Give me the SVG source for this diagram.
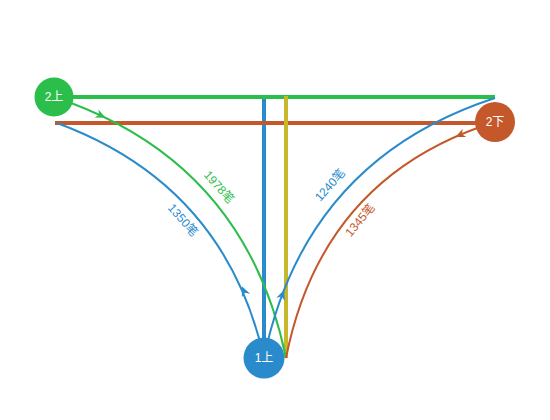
<svg xmlns="http://www.w3.org/2000/svg" width="550" height="420" viewBox="0 0 550 420">
<style>
.bar{fill:none;stroke-width:4}
.cv{fill:none;stroke-width:2}
.lbl{font-family:"Liberation Sans","Noto Sans CJK SC",sans-serif;font-size:12px;text-anchor:middle;dominant-baseline:central}
.nt{font-family:"Liberation Sans","Noto Sans CJK SC",sans-serif;font-size:12px;fill:#fff;text-anchor:middle;dominant-baseline:central}
.g{stroke:#2bbe4b}.gf{fill:#2bbe4b}
.b{stroke:#298bcc}.bf{fill:#298bcc}
.r{stroke:#c4582a}.rf{fill:#c4582a}
.y{stroke:#c8b728}
</style>
<defs>
<path id="arw" d="M5,0 L-5,-4.5 L-2,0 L-5,4.5 Z"/>
</defs>
<rect width="550" height="420" fill="#fff"/>
<g id="connectors">
<line class="bar b" x1="264" y1="99" x2="264" y2="358"/>
<line class="bar g" x1="54" y1="97" x2="495" y2="97"/>
<line class="bar r" x1="55" y1="123" x2="495" y2="123"/>
<line class="bar y" x1="286" y1="96" x2="286" y2="358"/>
<path class="cv g" d="M54,97 Q245,160 286,358"/>
<path class="cv b" d="M57,123 Q225,185 264,358"/>
<path class="cv b" d="M264,358 Q305,160 495,98"/>
<path class="cv r" d="M495,122 Q322,176 286,358"/>
<use href="#arw" class="gf" transform="translate(101,115.6) rotate(25.1)"/>
<use href="#arw" class="rf" transform="translate(460,135) rotate(156)"/>
<use href="#arw" class="bf" transform="translate(244,291) rotate(-113.3)"/>
<use href="#arw" class="bf" transform="translate(282.3,294.6) rotate(-69.2)"/>
<text class="lbl gf" transform="translate(219,187) rotate(48.4)">1978笔</text>
<text class="lbl bf" transform="translate(183,220) rotate(48.6)">1350笔</text>
<text class="lbl bf" transform="translate(330,185) rotate(-48.4)">1240笔</text>
<text class="lbl rf" transform="translate(360,220) rotate(-50)">1345笔</text>
</g>
<g id="n2up"><circle class="gf" cx="54" cy="97" r="19.5"/><text class="nt" x="54" y="97">2上</text></g>
<g id="n2down"><circle class="rf" cx="495" cy="122" r="20"/><text class="nt" x="495" y="122">2下</text></g>
<g id="n1up"><circle class="bf" cx="264" cy="358" r="20.5"/><text class="nt" x="264" y="358">1上</text></g>
</svg>
